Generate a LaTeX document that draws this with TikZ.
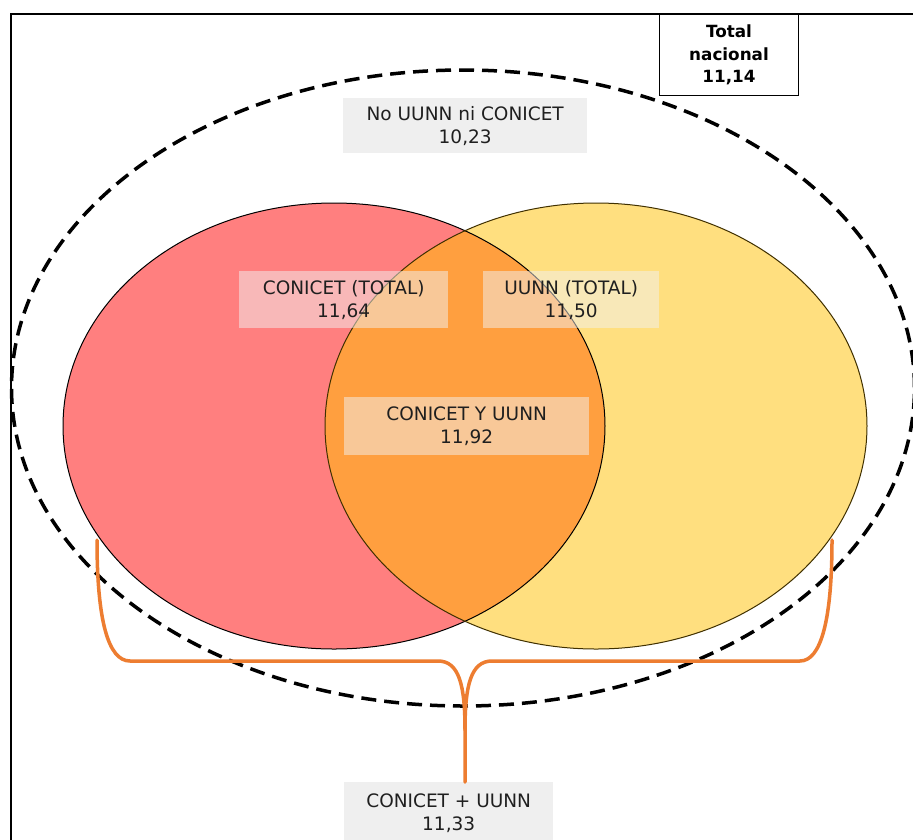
\documentclass[tikz,border=0pt]{standalone}
\usepackage{fontspec}
\usetikzlibrary{shapes.geometric}
\setmainfont{DejaVu Sans}
\newfontfamily\boldfam{DejaVu Sans}
\definecolor{bracecol}{HTML}{ED7D31}
\definecolor{ylw}{HTML}{FFC000}
\definecolor{lblgray}{HTML}{F2F2F2}
\definecolor{lblgray2}{HTML}{EFEFEF}
\begin{document}
\begin{tikzpicture}[x=1pt,y=-1pt,
  lbl/.style={fill=lblgray, inner sep=0pt, align=center, font=\fontsize{18.5}{23}\selectfont, text=black!88},
  tlbl/.style={lbl, fill opacity=0.5, text opacity=1},
  brace/.style={draw=bracecol, line width=3.5pt, line cap=round, line join=round}]
\useasboundingbox (0,0) rectangle (913,839);
\fill[white] (0,0) rectangle (913,839);
% frame
\draw[line width=1.5pt] (11,850) -- (11,14) -- (920,14);
% total nacional
\node[draw, line width=1pt, fill=white, minimum width=139pt, minimum height=81pt, anchor=north west, inner sep=0pt, align=center,
  font=\boldfam\bfseries\fontsize{16.8}{22.5}\selectfont] (tot) at (659,14) {Total\\nacional\\11,14};
% dashed ellipse
\node[draw, dash pattern=on 15pt off 8pt, line width=3.5pt, ellipse, minimum width=903pt, minimum height=636pt, inner sep=0pt]
  (outer) at (463,388) {};
% circles
\fill[red, opacity=0.5] (334,426) ellipse [x radius=271, y radius=223];
\fill[ylw, opacity=0.5] (596,426) ellipse [x radius=271, y radius=223];
\draw[line width=1pt] (334,426) ellipse [x radius=271, y radius=223];
\draw[line width=1pt, black!75!ylw] (596,426) ellipse [x radius=271, y radius=223];
\coordinate (bl) at (97,540);
\coordinate (br) at (832,540);
\coordinate (btip) at (465,782);
% labels
\node[lbl, fill=lblgray2, minimum width=244pt, minimum height=55pt, anchor=north west] (no) at (343,98) {No UUNN ni CONICET\\10,23};
\node[tlbl, minimum width=209pt, minimum height=57pt, anchor=north west] (con) at (239,271) {CONICET (TOTAL)\\11,64};
\node[tlbl, minimum width=176pt, minimum height=57pt, anchor=north west] (uun) at (483,271) {UUNN (TOTAL)\\11,50};
\node[tlbl, minimum width=245pt, minimum height=58pt, anchor=north west] (both) at (344,397) {CONICET Y UUNN\\11,92};
\node[lbl, fill=lblgray2, minimum width=209pt, minimum height=62pt, anchor=north west] (sum) at (344,782) {CONICET + UUNN\\11,33};
% brace
\draw[brace] (bl) .. controls (97,620) and (108,661) .. (130,661) -- (438,661)
  .. controls (459,661) and (465,685) .. (465,730) -- (btip);
\draw[brace] (br) .. controls (832,620) and (821,661) .. (800,661) -- (492,661)
  .. controls (471,661) and (465,685) .. (465,730);
\end{tikzpicture}
\end{document}
